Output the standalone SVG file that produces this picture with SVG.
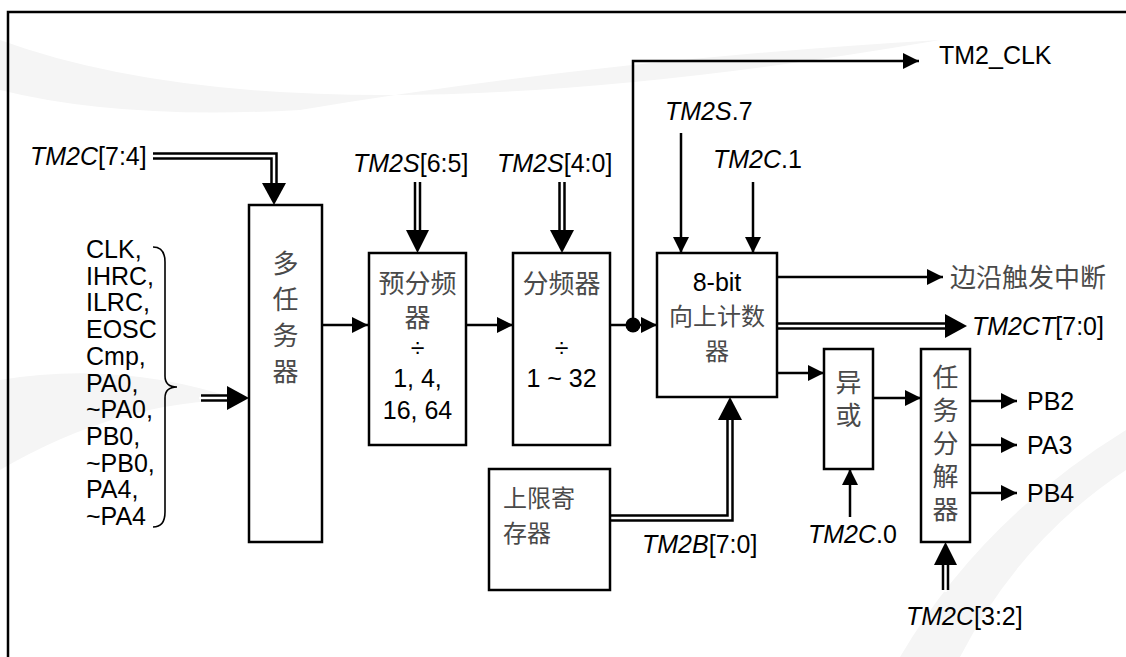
<svg xmlns="http://www.w3.org/2000/svg" width="1126" height="657" viewBox="0 0 1126 657">
<defs>
<marker id="ah" viewBox="0 0 10 10" refX="10" refY="5" markerUnits="userSpaceOnUse" markerWidth="16" markerHeight="16" orient="auto"><path d="M0,0 L10,5 L0,10 z" fill="#000"/></marker>
</defs>
<style>
.box{fill:#fff;stroke:#000;stroke-width:2.5}
.ln{fill:none;stroke:#000;stroke-width:2.5}
.arr{fill:none;stroke:#000;stroke-width:2.5;marker-end:url(#ah)}
.dbo{fill:none;stroke:#000;stroke-width:7.5;stroke-linejoin:miter}
.dbi{fill:none;stroke:#fff;stroke-width:2.5;stroke-linejoin:miter}
.head{fill:#000}
.t{font-family:"Liberation Sans",Arial,sans-serif;font-size:25px;fill:#000}
.i{font-style:italic}
.c{font-family:"Noto Sans CJK SC","Noto Sans CJK TC",sans-serif;font-size:26px;fill:#4a4a4a}
.s{font-size:24px}
.v{writing-mode:vertical-rl;text-orientation:upright}
.m{text-anchor:middle}
.wm{fill:#f5f5f5}
</style>
<g id="watermark">
<path class="wm" d="M0,40 Q300,150 940,40 Q600,60 300,110 Q120,120 0,90 z"/>
<path class="wm" d="M0,380 Q120,360 240,400 Q120,400 0,470 z"/>
<path class="wm" d="M900,657 Q980,520 1126,430 L1126,470 Q1020,540 960,657 z"/>
</g>
<g id="frame">
<path class="ln" d="M1126,12 H8 V657" stroke-width="2"/>
</g>
<g id="connectors">
<path class="dbo" d="M153,156 H274 V184"/><path class="dbi" d="M153,156 H274 V186"/>
<polygon class="head" points="262,183 286,183 274,205"/>
<path class="dbo" d="M201,398 H228"/><path class="dbi" d="M199,398 H229"/>
<polygon class="head" points="227,386 227,410 249,398"/>
<path class="dbo" d="M417.5,182 V231"/><path class="dbi" d="M417.5,180 V232"/>
<polygon class="head" points="406,230 429,230 417.5,253"/>
<path class="dbo" d="M562,182 V231"/><path class="dbi" d="M562,180 V232"/>
<polygon class="head" points="550,230 574,230 562,253"/>
<path class="dbo" d="M777,326 H946"/><path class="dbi" d="M775,326 H947"/>
<polygon class="head" points="945,314 945,338 967,326"/>
<path class="dbo" d="M610,518 H730 V419"/><path class="dbi" d="M608,518 H730 V418"/>
<polygon class="head" points="718,420 742,420 730,397"/>
<path class="dbo" d="M945.5,590 V564"/><path class="dbi" d="M945.5,592 V563"/>
<polygon class="head" points="934,565 957,565 945.5,542"/>
<path class="arr" d="M322,325 H368"/>
<path class="arr" d="M466,325 H513"/>
<path class="ln" d="M610,325 H633"/>
<path class="arr" d="M633,325 H657"/>
<path class="arr" d="M633,325 V61 H919"/>
<circle cx="633" cy="325" r="7.5" fill="#000"/>
<path class="arr" d="M681,133 V253"/>
<path class="arr" d="M753,182 V253"/>
<path class="arr" d="M777,277 H943"/>
<path class="arr" d="M777,373 H824"/>
<path class="arr" d="M850,517 V469"/>
<path class="arr" d="M873,398 H921"/>
<path class="arr" d="M970,401 H1017"/>
<path class="arr" d="M970,445 H1017"/>
<path class="arr" d="M970,493 H1017"/>
</g>
<g id="inputs">
<text class="t" x="30" y="165"><tspan class="i">TM2C</tspan>[7:4]</text>
<text class="t" x="86" y="258"><tspan x="86">CLK,</tspan><tspan x="86" dy="26.7">IHRC,</tspan><tspan x="86" dy="26.7">ILRC,</tspan><tspan x="86" dy="26.7">EOSC</tspan><tspan x="86" dy="26.7">Cmp,</tspan><tspan x="86" dy="26.7">PA0,</tspan><tspan x="86" dy="26.7">~PA0,</tspan><tspan x="86" dy="26.7">PB0,</tspan><tspan x="86" dy="26.7">~PB0,</tspan><tspan x="86" dy="26.7">PA4,</tspan><tspan x="86" dy="26.7">~PA4</tspan></text>
<path d="M153,247 Q165,247 165,262 V376 Q165,387 177,387 Q165,387 165,398 V512 Q165,527 153,527" fill="none" stroke="#000" stroke-width="1.6"/>
</g>
<g id="mux">
<rect class="box" x="249" y="205" width="73" height="337"/>
<text class="c v" x="285.5" y="250" letter-spacing="10">多任务器</text>
</g>
<g id="prescaler">
<rect class="box" x="369" y="253" width="97" height="192"/>
<text class="c m" y="293"><tspan x="417.5">预分频</tspan><tspan x="417.5" dy="34">器</tspan><tspan class="t" x="417.5" dy="30" fill="#4a4a4a">÷</tspan><tspan class="t" x="417.5" dy="30">1, 4,</tspan><tspan class="t" x="417.5" dy="32">16, 64</tspan></text>
<text class="t" x="353" y="172"><tspan class="i">TM2S</tspan>[6:5]</text>
</g>
<g id="divider">
<rect class="box" x="513" y="253" width="97" height="192"/>
<text class="c m" y="293"><tspan x="561.5">分频器</tspan><tspan class="t" x="561.5" dy="64" fill="#4a4a4a">÷</tspan><tspan class="t" x="561.5" dy="30">1 ~ 32</tspan></text>
<text class="t" x="497" y="172"><tspan class="i">TM2S</tspan>[4:0]</text>
</g>
<g id="counter">
<rect class="box" x="657" y="253" width="120" height="144"/>
<text class="t m" y="291"><tspan x="717">8-bit</tspan><tspan class="c s" x="717" dy="34">向上计数</tspan><tspan class="c s" x="717" dy="35">器</tspan></text>
<text class="t" x="665" y="120"><tspan class="i">TM2S</tspan>.7</text>
<text class="t" x="713" y="168"><tspan class="i">TM2C</tspan>.1</text>
</g>
<g id="outputs">
<text class="t" x="939" y="64">TM2_CLK</text>
<text class="c" x="950" y="287">边沿触发中断</text>
<text class="t" x="972" y="335"><tspan class="i">TM2CT</tspan>[7:0]</text>
</g>
<g id="limit-register">
<rect class="box" x="489" y="469" width="121" height="121"/>
<text class="c s" y="507"><tspan x="503">上限寄</tspan><tspan x="503" dy="35">存器</tspan></text>
<text class="t" x="642" y="553"><tspan class="i">TM2B</tspan>[7:0]</text>
</g>
<g id="xor">
<rect class="box" x="824" y="349" width="49" height="120"/>
<text class="c v" x="848.5" y="369" letter-spacing="7">异或</text>
<text class="t" x="808" y="543"><tspan class="i">TM2C</tspan>.0</text>
</g>
<g id="demux">
<rect class="box" x="921" y="349" width="49" height="193"/>
<text class="c v" x="945.5" y="364" letter-spacing="7">任务分解器</text>
<text class="t" x="1027" y="410">PB2</text>
<text class="t" x="1027" y="454">PA3</text>
<text class="t" x="1027" y="502">PB4</text>
<text class="t" x="906" y="625"><tspan class="i">TM2C</tspan>[3:2]</text>
</g>
</svg>
